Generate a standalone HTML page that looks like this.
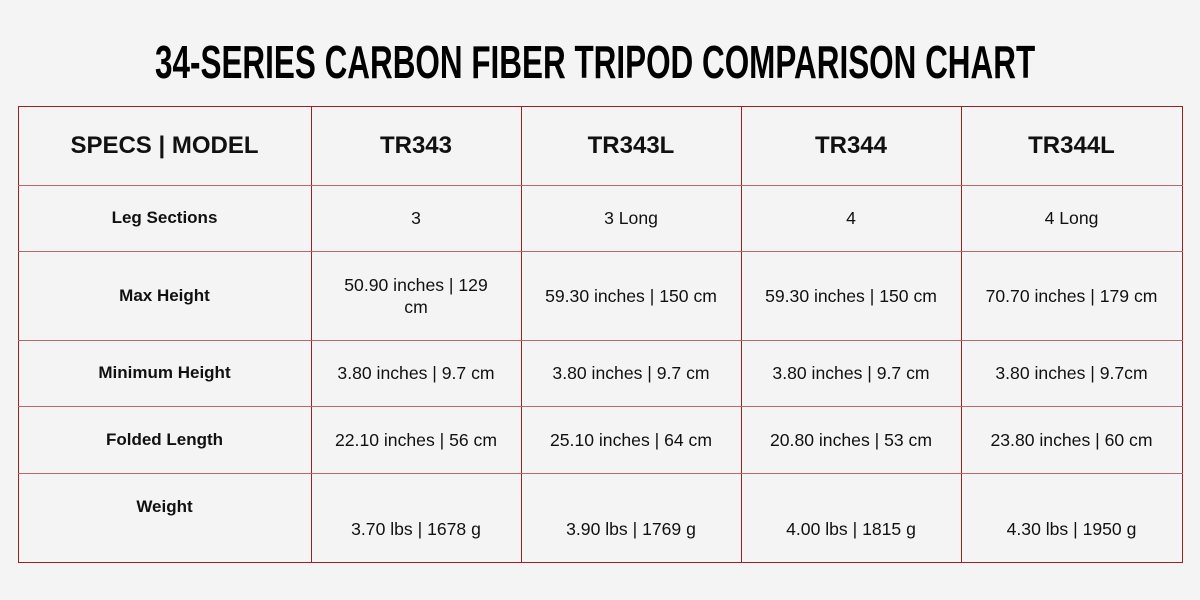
<!DOCTYPE html>
<html><head><style>
body{margin:0;width:1200px;height:600px;background:#f4f4f4;position:relative;overflow:hidden;font-family:"Liberation Sans",sans-serif;color:#111}
#ts{position:absolute;left:155px;top:36px;font-weight:bold;font-size:46px;line-height:52px;color:#000;white-space:nowrap;transform-origin:0 0}
.c{position:absolute;display:flex;align-items:center;justify-content:center;text-align:center;font-size:17.6px;line-height:22px;box-sizing:border-box;padding:0 10px;white-space:nowrap}
.h{font-weight:bold;font-size:24px}
.b{font-weight:bold;font-size:17px}
.l{position:absolute;background:#9b2020}
</style></head><body>
<div id="ts">34-SERIES CARBON FIBER TRIPOD COMPARISON CHART</div>
<div id="g"></div>
<script>
var ts=document.getElementById("ts");ts.style.transform="scaleX("+(880/ts.offsetWidth)+")";
var xs=[18,311,521,741,961,1182],ys=[106,185,251,340,406,473,562];
var d=[["SPECS | MODEL","TR343","TR343L","TR344","TR344L"],
["Leg Sections","3","3 Long","4","4 Long"],
["Max Height","50.90 inches | 129<br>cm","59.30 inches | 150 cm","59.30 inches | 150 cm","70.70 inches | 179 cm"],
["Minimum Height","3.80 inches | 9.7 cm","3.80 inches | 9.7 cm","3.80 inches | 9.7 cm","3.80 inches | 9.7cm"],
["Folded Length","22.10 inches | 56 cm","25.10 inches | 64 cm","20.80 inches | 53 cm","23.80 inches | 60 cm"],
["Weight","3.70 lbs | 1678 g","3.90 lbs | 1769 g","4.00 lbs | 1815 g","4.30 lbs | 1950 g"]];
var h="";
for(var r=0;r<6;r++)for(var c=0;c<5;c++){
 var cls="c"+(r==0?" h":(c==0?" b":""));
 var y=ys[r],hh=ys[r+1]-ys[r];
 if(r==5&&c==0){hh=68;}
 if(r==5&&c>0){y+=22;hh-=22;}
 h+='<div class="'+cls+'" style="left:'+xs[c]+'px;top:'+y+'px;width:'+(xs[c+1]-xs[c])+'px;height:'+hh+'px">'+d[r][c]+'</div>';
}
for(var i=0;i<xs.length;i++)h+='<div class="l" style="left:'+xs[i]+'px;top:106px;width:1px;height:457px"></div>';
for(var j=0;j<ys.length;j++)h+='<div class="l" style="left:18px;top:'+ys[j]+'px;width:1165px;height:1px;'+(j>0&&j<6?'background:#b56a6a':'')+'"></div>';
document.getElementById("g").innerHTML=h;
</script>
</body></html>
